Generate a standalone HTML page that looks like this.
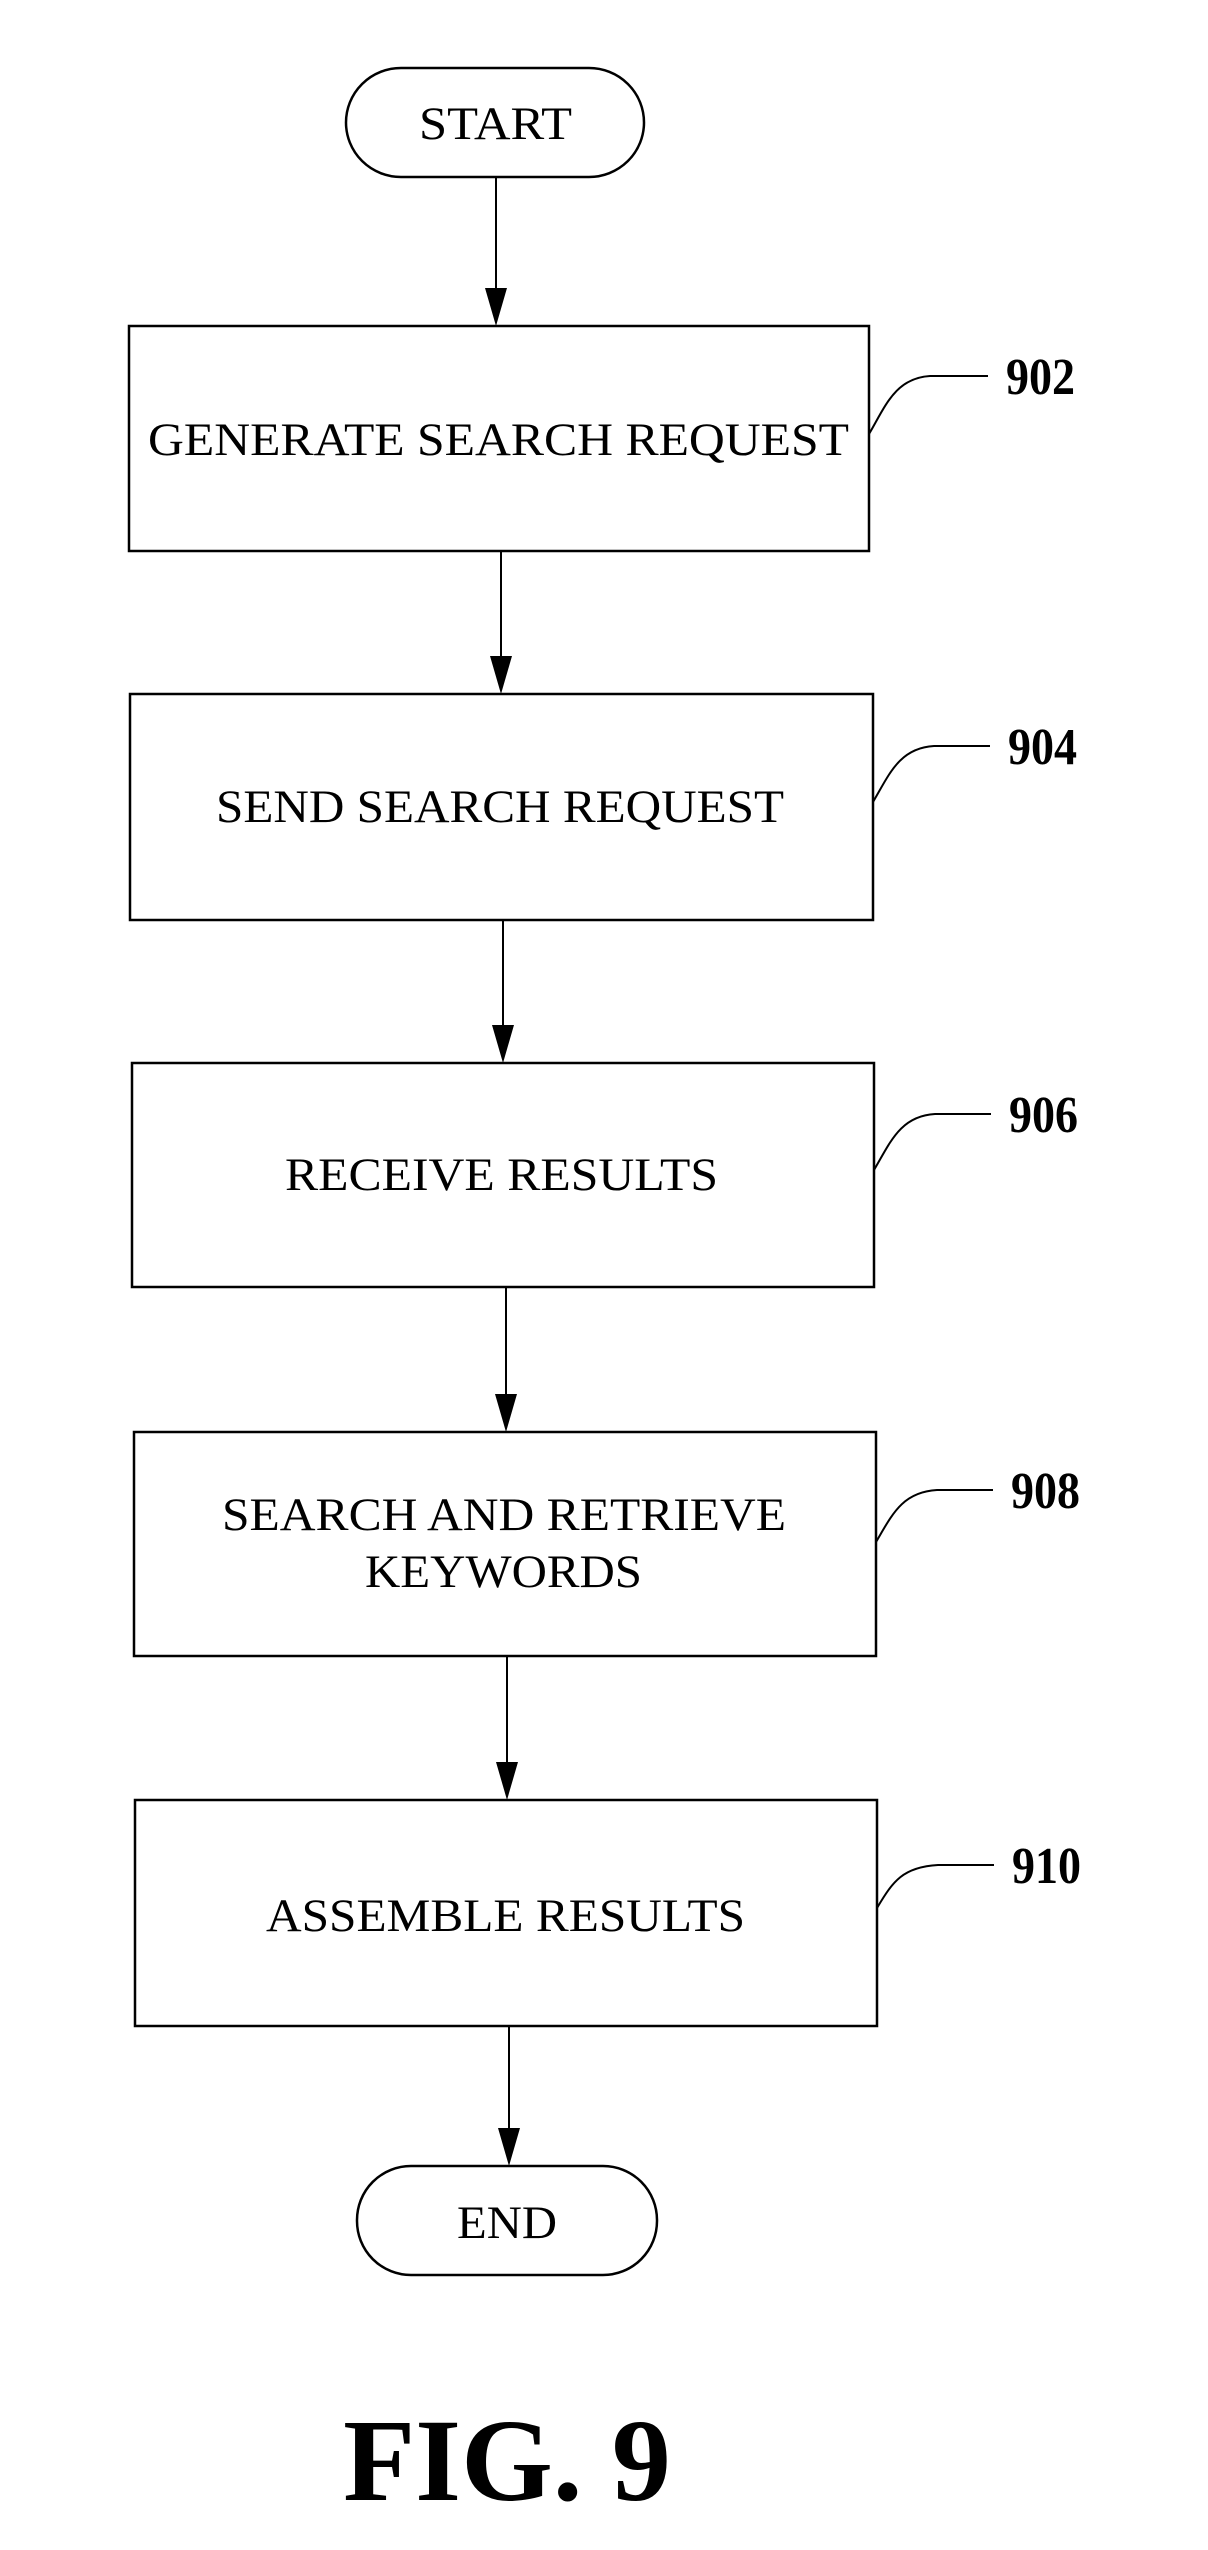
<!DOCTYPE html>
<html><head><meta charset="utf-8"><style>
html,body{margin:0;padding:0;background:#fff;}
svg{display:block;}
text{font-family:"Liberation Serif",serif;fill:#000;}
</style></head><body>
<svg width="1208" height="2550" viewBox="0 0 1208 2550" xmlns="http://www.w3.org/2000/svg">
<g fill="none" stroke="#000" stroke-width="2.5">
<rect x="346" y="68" width="298" height="109" rx="55" ry="55"/>
<rect x="129" y="326" width="740" height="225"/>
<rect x="130" y="694" width="743" height="226"/>
<rect x="132" y="1063" width="742" height="224"/>
<rect x="134" y="1432" width="742" height="224"/>
<rect x="135" y="1800" width="742" height="226"/>
<rect x="357" y="2166" width="300" height="109" rx="54" ry="54"/>
<g stroke-width="2">
<line x1="496" y1="177" x2="496" y2="300"/>
<line x1="501" y1="551" x2="501" y2="668"/>
<line x1="503" y1="920" x2="503" y2="1037"/>
<line x1="506" y1="1287" x2="506" y2="1406"/>
<line x1="507" y1="1656" x2="507" y2="1774"/>
<line x1="509" y1="2026" x2="509" y2="2140"/>
<path d="M869,434 C885,407 895,378 930,376 L988,376"/>
<path d="M873,802 C889,775 899,748 934,746 L990,746"/>
<path d="M874,1170 C890,1143 900,1116 935,1114 L991,1114"/>
<path d="M876,1542 C892,1515 902,1492 937,1490 L993,1490"/>
<path d="M877,1908 C893,1881 903,1867 938,1865 L994,1865"/>
</g>
</g>
<g fill="#000">
<polygon points="485,288 507,288 496,326"/>
<polygon points="490,656 512,656 501,694"/>
<polygon points="492,1025 514,1025 503,1063"/>
<polygon points="495,1394 517,1394 506,1432"/>
<polygon points="496,1762 518,1762 507,1800"/>
<polygon points="498,2128 520,2128 509,2166"/>
</g>
<g font-size="47">
<text x="419" y="139" textLength="153" lengthAdjust="spacingAndGlyphs">START</text>
<text x="148" y="455" textLength="701" lengthAdjust="spacingAndGlyphs">GENERATE SEARCH REQUEST</text>
<text x="216" y="822" textLength="568" lengthAdjust="spacingAndGlyphs">SEND SEARCH REQUEST</text>
<text x="285" y="1190" textLength="433" lengthAdjust="spacingAndGlyphs">RECEIVE RESULTS</text>
<text x="222" y="1530" textLength="564" lengthAdjust="spacingAndGlyphs">SEARCH AND RETRIEVE</text>
<text x="365" y="1587" textLength="277" lengthAdjust="spacingAndGlyphs">KEYWORDS</text>
<text x="266" y="1931" textLength="479" lengthAdjust="spacingAndGlyphs">ASSEMBLE RESULTS</text>
<text x="457" y="2238" textLength="100" lengthAdjust="spacingAndGlyphs">END</text>
</g>
<g font-size="52" font-weight="bold">
<text x="1006" y="394" textLength="69" lengthAdjust="spacingAndGlyphs">902</text>
<text x="1008" y="764" textLength="69" lengthAdjust="spacingAndGlyphs">904</text>
<text x="1009" y="1132" textLength="69" lengthAdjust="spacingAndGlyphs">906</text>
<text x="1011" y="1508" textLength="69" lengthAdjust="spacingAndGlyphs">908</text>
<text x="1012" y="1883" textLength="69" lengthAdjust="spacingAndGlyphs">910</text>
</g>
<text x="507" y="2500" font-size="118" font-weight="bold" text-anchor="middle">FIG. 9</text>
</svg>
</body></html>
